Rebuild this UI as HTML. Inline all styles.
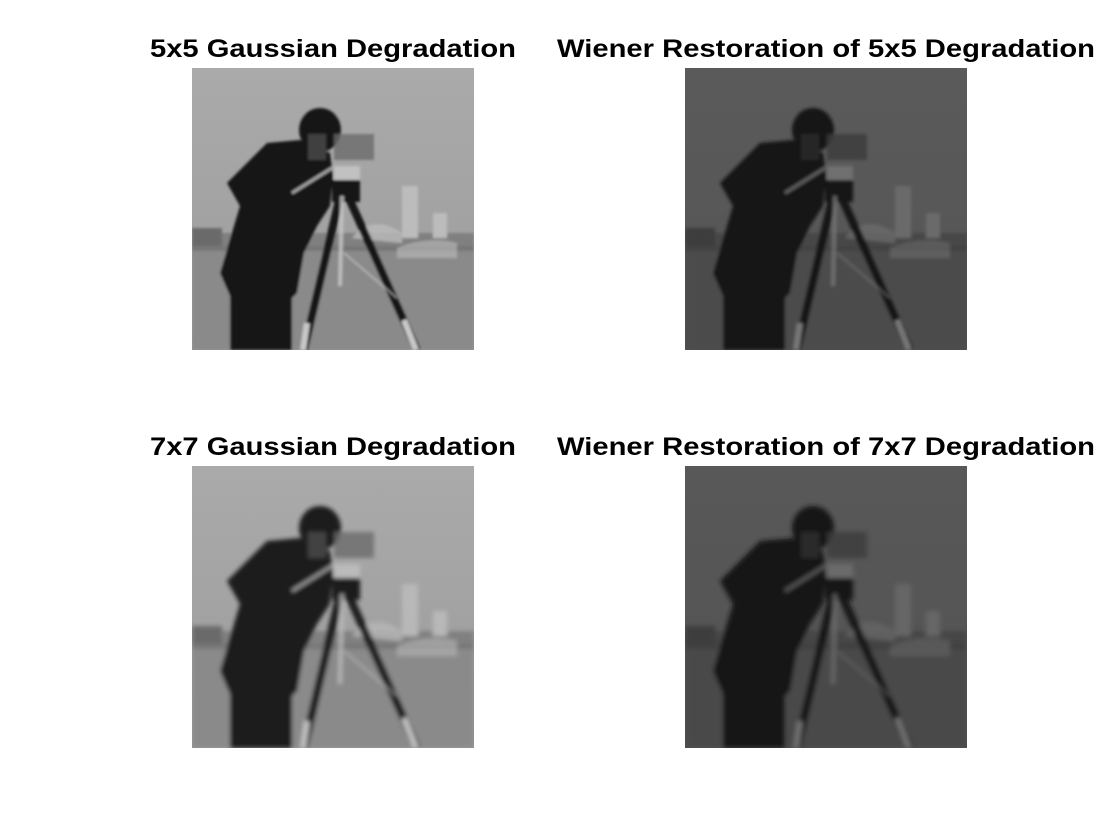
<!DOCTYPE html>
<html><head><meta charset="utf-8"><style>
html,body{margin:0;padding:0;background:#fff;}
svg{display:block;}
text{font-family:"Liberation Sans",Arial,sans-serif;font-weight:bold;font-size:25px;fill:#000;}
</style></head><body>
<svg id="fig" width="1120" height="840" viewBox="0 0 1120 840" xmlns="http://www.w3.org/2000/svg">
<defs>
<clipPath id="clip"><rect x="0" y="0" width="282" height="282"/></clipPath>
</defs>
<text x="333" y="57" text-anchor="middle" textLength="366" lengthAdjust="spacingAndGlyphs">5x5 Gaussian Degradation</text>
<text x="826" y="57" text-anchor="middle" textLength="538" lengthAdjust="spacingAndGlyphs">Wiener Restoration of 5x5 Degradation</text>
<text x="333" y="455" text-anchor="middle" textLength="366" lengthAdjust="spacingAndGlyphs">7x7 Gaussian Degradation</text>
<text x="826" y="455" text-anchor="middle" textLength="538" lengthAdjust="spacingAndGlyphs">Wiener Restoration of 7x7 Degradation</text>
</svg>
<script>
const panels = [
  {name:'image-5x5-degradation', x:192, y:68, sky1:'#aaaaaa', sky2:'#9c9c9c', grass:'#8a8a8a', fig:'#181818', mid:'#6a6a6a', light:'#c8c8c8', bld:'#bcbcbc', blur:1.4},
  {name:'image-5x5-restoration', x:685, y:68, sky1:'#5a5a5a', sky2:'#555555', grass:'#4c4c4c', fig:'#141414', mid:'#3c3c3c', light:'#777', bld:'#6a6a6a', blur:1.6},
  {name:'image-7x7-degradation', x:192, y:466, sky1:'#aaaaaa', sky2:'#9c9c9c', grass:'#8a8a8a', fig:'#1a1a1a', mid:'#6a6a6a', light:'#c0c0c0', bld:'#b8b8b8', blur:2.2},
  {name:'image-7x7-restoration', x:685, y:466, sky1:'#585858', sky2:'#535353', grass:'#4a4a4a', fig:'#161616', mid:'#3c3c3c', light:'#707070', bld:'#666', blur:2.4}
];
const svg = document.getElementById('fig');
const NS = 'http://www.w3.org/2000/svg';
panels.forEach((p,i)=>{
  const g = document.createElementNS(NS,'g');
  
  
  g.setAttribute('transform', `translate(${p.x},${p.y})`);
  g.setAttribute('clip-path','url(#clip)');
  const fid = 'bf'+i;
  g.innerHTML = `
  <filter id="${fid}" x="-5%" y="-5%" width="110%" height="110%"><feGaussianBlur stdDeviation="${p.blur}"/></filter>
  <linearGradient id="sg${i}" x1="0" y1="0" x2="0" y2="1"><stop offset="0" stop-color="${p.sky1}"/><stop offset="1" stop-color="${p.sky2}"/></linearGradient>
  <rect width="282" height="282" fill="url(#sg${i})"/>
  <g filter="url(#${fid})">
    <rect x="0" y="178" width="282" height="104" fill="${p.grass}"/>
    <rect x="0" y="165" width="282" height="18" fill="${p.mid}" opacity="0.6"/>
    <rect x="210" y="118" width="16" height="52" fill="${p.bld}"/>
    <rect x="241" y="145" width="14" height="25" fill="${p.bld}"/>
    <path d="M160 170 Q180 145 210 165 L210 175 Z" fill="${p.bld}" opacity="0.8"/>
    <path d="M205 180 Q235 168 265 175 L265 190 L205 190 Z" fill="${p.bld}" opacity="0.6"/>
    <rect x="0" y="160" width="30" height="18" fill="${p.mid}"/>
    <path d="M35 115 L75 75 L108 72 L138 85 L141 108 L138 138 L125 158 L112 185 L105 225 L85 245 L38 228 L28 205 L48 138 Z" fill="${p.fig}"/>
    <rect x="38" y="225" width="62" height="57" fill="${p.fig}"/>
    <ellipse cx="128" cy="62" rx="21" ry="22" fill="${p.fig}"/>
    <rect x="116" y="66" width="18" height="26" fill="${p.mid}" opacity="0.5"/>
    <rect x="142" y="66" width="40" height="26" fill="${p.mid}" opacity="0.8"/>
    <rect x="142" y="98" width="26" height="14" fill="${p.light}" opacity="0.8"/>
    <rect x="140" y="112" width="28" height="22" fill="${p.fig}"/>
    <path d="M100 125 L140 100" stroke="${p.light}" stroke-width="3" opacity="0.8"/>
    <path d="M148 128 L112 282" stroke="${p.fig}" stroke-width="8"/>
    <path d="M150 128 L148 218" stroke="${p.light}" stroke-width="4" opacity="0.8"/>
    <path d="M156 128 L225 282" stroke="${p.fig}" stroke-width="8"/>
    <path d="M152 185 L205 230" stroke="${p.light}" stroke-width="2" opacity="0.6"/>
    <path d="M115 255 L111 282" stroke="${p.light}" stroke-width="6"/>
    <path d="M212 252 L224 282" stroke="${p.light}" stroke-width="6"/>
    <ellipse cx="95" cy="142" rx="12" ry="10" fill="${p.fig}"/>
  </g>`;
  svg.appendChild(g);
});
</script>
</body></html>
